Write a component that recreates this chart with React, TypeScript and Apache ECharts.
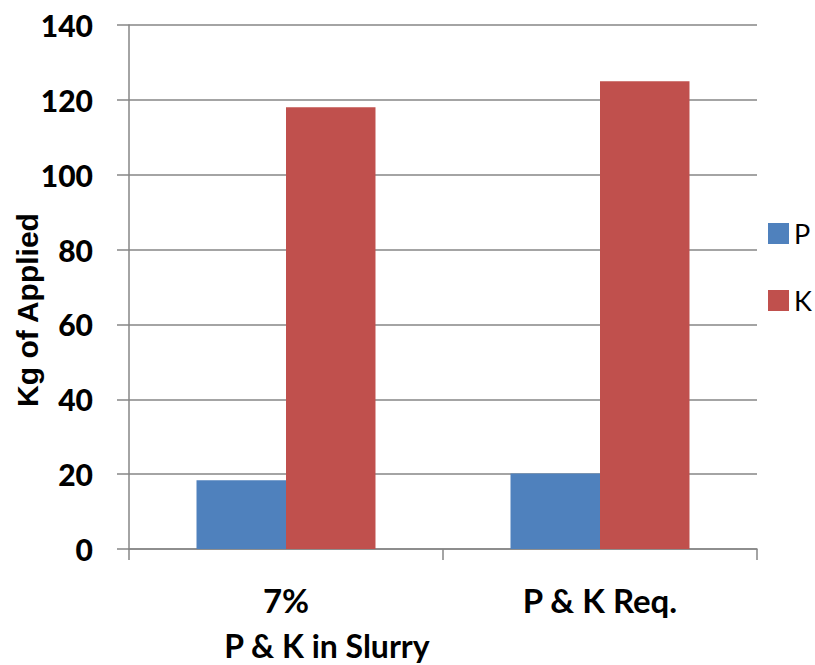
import React, { useEffect, useRef } from "react";
import * as echarts from "echarts";

const categories = ["7%", "P & K Req."];
const seriesNames = ["P", "K"];
const pValues = [18.4, 20.2];
const kValues = [118, 125];
const yTicks = { min: 0, max: 140, interval: 20 };
const xTitle = "P & K in Slurry";
const yTitle = "Kg of Applied";

const FONT = "Lato, 'Open Sans', sans-serif";

export default function App() {
  const ref = useRef<HTMLDivElement>(null);
  useEffect(() => {
    if (!ref.current) return;
    const chart = echarts.init(ref.current, undefined, { renderer: "svg" });
    const gray = "#868686";
    chart.setOption({
      animation: false,
      backgroundColor: "#ffffff",
      grid: { left: 129, right: 58, top: 25, bottom: 116, containLabel: false },
      legend: {
        orient: "vertical",
        left: 763,
        top: 215,
        itemWidth: 21,
        itemHeight: 21,
        itemGap: 40,
        icon: "rect",
        textStyle: { fontFamily: FONT, fontSize: 27, color: "#000", padding: [0, 0, 0, 0] },
        data: seriesNames,
      },
      xAxis: {
        type: "category",
        data: categories,
        axisLine: { show: true, lineStyle: { color: gray, width: 1.5 } },
        axisTick: { show: true, length: 11, alignWithLabel: false, lineStyle: { color: gray, width: 1.5 } },
        axisLabel: {
          margin: 34,
          fontFamily: FONT,
          fontWeight: "bold",
          fontSize: 33,
          color: "#000",
        },
      },
      yAxis: {
        type: "value",
        min: yTicks.min,
        max: yTicks.max,
        interval: yTicks.interval,
        axisLine: { show: true, lineStyle: { color: gray, width: 1.5 } },
        axisTick: { show: true, length: 12, lineStyle: { color: gray, width: 1.5 } },
        axisLabel: {
          margin: 36,
          fontFamily: FONT,
          fontWeight: 900,
          fontSize: 30,
          color: "#000",
        },
        splitLine: { show: true, lineStyle: { color: gray, width: 1.5 } },
      },
      graphic: [
        {
          type: "text",
          x: 327,
          y: 645,
          style: {
            text: xTitle,
            fontFamily: FONT,
            fontWeight: "bold",
            fontSize: 32,
            fill: "#000",
            textAlign: "center",
            textVerticalAlign: "middle",
          },
        },
        {
          type: "text",
          x: 27,
          y: 310,
          rotation: Math.PI / 2,
          style: {
            text: yTitle,
            fontFamily: "'Liberation Sans', Arial, sans-serif",
            fontWeight: "bold",
            fontSize: 30,
            fill: "#000",
            textAlign: "center",
            textVerticalAlign: "middle",
          },
        },
      ],
      series: [
        {
          name: seriesNames[0],
          type: "bar",
          data: pValues,
          barGap: "0%",
          barCategoryGap: "43%",
          itemStyle: { color: "#4F81BD" },
        },
        {
          name: seriesNames[1],
          type: "bar",
          data: kValues,
          barGap: "0%",
          barCategoryGap: "43%",
          itemStyle: { color: "#C0504D" },
        },
      ],
    });
    return () => chart.dispose();
  }, []);
  return (
    <div
      ref={ref}
      style={{ position: "fixed", left: 0, top: 0, width: 815, height: 665 }}
    />
  );
}
